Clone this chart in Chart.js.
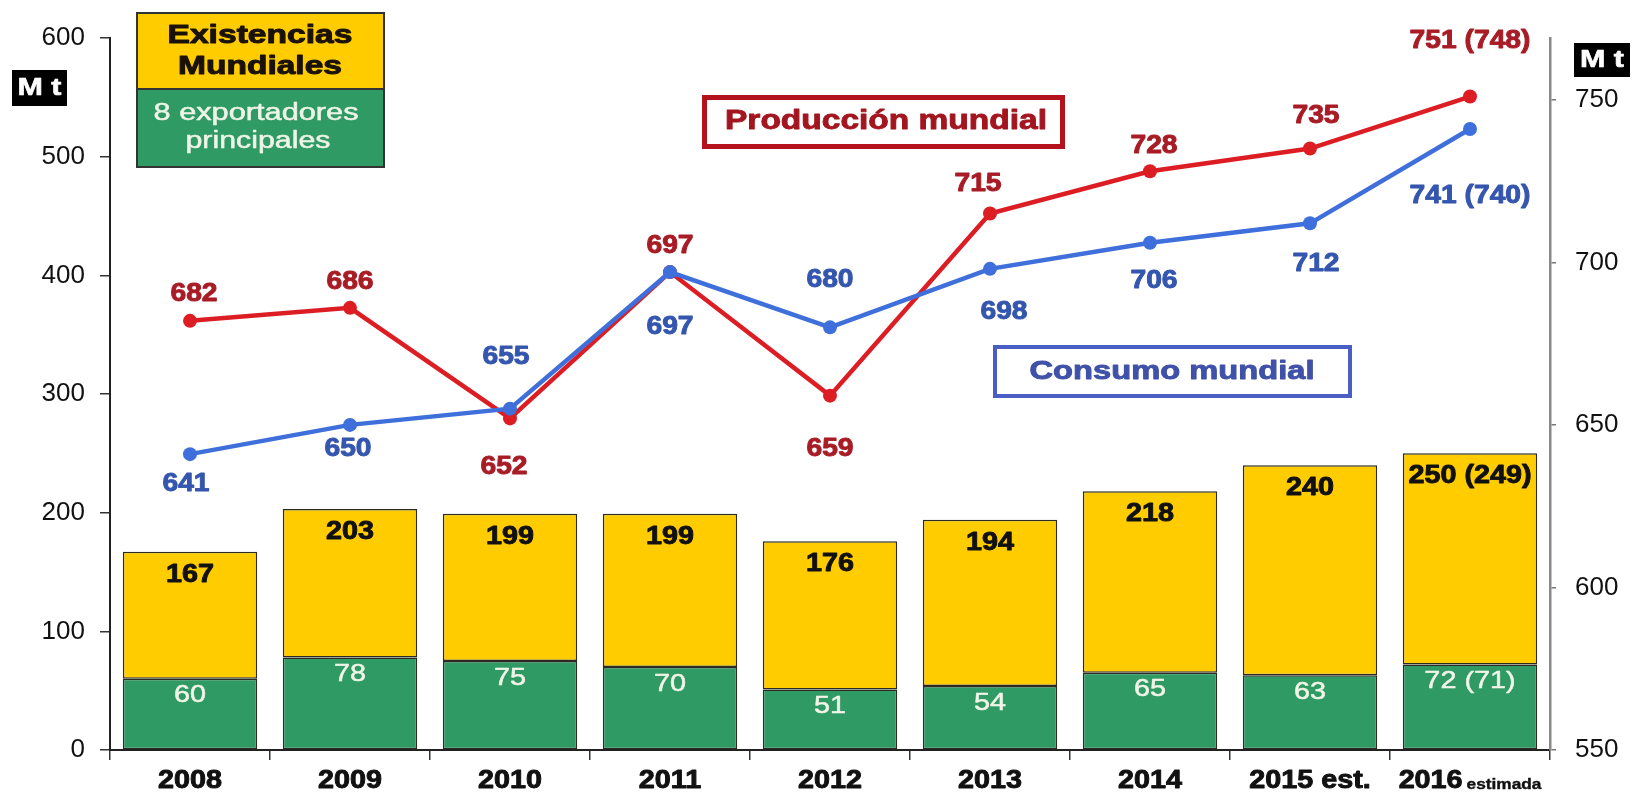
<!DOCTYPE html>
<html lang="es">
<head>
<meta charset="utf-8">
<title>Producción, consumo y existencias mundiales</title>
<script src="https://cdn.jsdelivr.net/npm/chart.js@4.4.1/dist/chart.umd.min.js"></script>
<style>
  html, body { margin: 0; padding: 0; background: #fff; }
  #wrap { width: 1635px; height: 794px; }
</style>
</head>
<body>
<div id="wrap"><canvas id="chart" width="1635" height="794"></canvas></div>
<script>
// campañas
const years = ["2008", "2009", "2010", "2011", "2012", "2013", "2014", "2015 est.", "2016"];
const yearNotes = ["", "", "", "", "", "", "", "", "estimada"];

// existencias (Mt, eje izquierdo)
const stocksTotal = [167, 203, 199, 199, 176, 194, 218, 240, 250];
const stocksExporters = [60, 78, 75, 70, 51, 54, 65, 63, 72];
const stocksTotalPrev = [null, null, null, null, null, null, null, null, 249];
const stocksExportersPrev = [null, null, null, null, null, null, null, null, 71];

// producción y consumo (Mt, eje derecho)
const production = [682, 686, 652, 697, 659, 715, 728, 735, 751];
const consumption = [641, 650, 655, 697, 680, 698, 706, 712, 741];
const productionPrev = [null, null, null, null, null, null, null, null, 748];
const consumptionPrev = [null, null, null, null, null, null, null, null, 740];

const stockTicks = [0, 100, 200, 300, 400, 500, 600];
const balanceTicks = [550, 600, 650, 700, 750];
const balanceMax = 769;

const RED = "#DC1E24";
const RED_TEXT = "#A81C26";
const BLUE = "#3F6FDA";
const BLUE_TEXT = "#3556AE";
const YELLOW = "#FFCC00";
const GREEN = "#2F9A64";

// where each point label sits relative to its point
const prodLabelShift = [[4, -27], [0, -26], [-6, 49], [0, -26], [0, 53], [-12, -29], [4, -25], [6, -32], [0, -55]];
const consLabelShift = [[-4, 30], [-2, 24], [-4, -52], [0, 55], [0, -47], [14, 43], [4, 38], [6, 41], [0, 67]];

const withPrev = (v, prev) => (prev == null ? String(v) : v + " (" + prev + ")");

// text with optional horizontal stretch and a thin outline to make it heavier
function drawText(ctx, str, x, y, font, color, align, sx, heavy) {
  ctx.save();
  ctx.font = font;
  ctx.fillStyle = color;
  ctx.textAlign = align || "center";
  ctx.textBaseline = "middle";
  ctx.translate(x, y);
  ctx.scale(sx || 1, 1);
  ctx.fillText(str, 0, 0);
  if (heavy) {
    ctx.strokeStyle = color;
    ctx.lineWidth = heavy;
    ctx.lineJoin = "round";
    ctx.strokeText(str, 0, 0);
  }
  ctx.restore();
}

function fitText(ctx, str, x, y, font, color, width, heavy) {
  ctx.save();
  ctx.font = font;
  const sx = width / ctx.measureText(str).width;
  ctx.restore();
  drawText(ctx, str, x, y, font, color, "center", sx, heavy);
}

const valueLabels = {
  id: "valueLabels",
  afterDatasetsDraw(chart) {
    const ctx = chart.ctx;
    const x = chart.scales.x;
    const y = chart.scales.y;
    const y2 = chart.scales.y2;
    const bold = "bold 25px 'Liberation Sans', Arial, sans-serif";
    const plain = "24px 'Liberation Sans', Arial, sans-serif";

    years.forEach((_, i) => {
      const cx = x.getPixelForValue(i);
      // existencias
      drawText(ctx, withPrev(stocksTotal[i], stocksTotalPrev[i]), cx, y.getPixelForValue(stocksTotal[i]) + 23, bold, "#111", "center", 1.15, 0.9);
      drawText(ctx, withPrev(stocksExporters[i], stocksExportersPrev[i]), cx, y.getPixelForValue(stocksExporters[i]) + 17, plain, "#F2F4E8", "center", 1.2, 0.5);
      // producción / consumo
      const ps = prodLabelShift[i];
      drawText(ctx, withPrev(production[i], productionPrev[i]), cx + ps[0], y2.getPixelForValue(production[i]) + ps[1], bold, RED_TEXT, "center", 1.13, 0.9);
      const cs = consLabelShift[i];
      drawText(ctx, withPrev(consumption[i], consumptionPrev[i]), cx + cs[0], y2.getPixelForValue(consumption[i]) + cs[1], bold, BLUE_TEXT, "center", 1.13, 0.9);
    });
  },
  afterDraw(chart) {
    const ctx = chart.ctx;
    const x = chart.scales.x;
    const yearFont = "bold 25px 'Liberation Sans', Arial, sans-serif";
    const noteFont = "bold 15px 'Liberation Sans', Arial, sans-serif";

    // etiquetas de años
    years.forEach((label, i) => {
      const cx = x.getPixelForValue(i);
      const note = yearNotes[i];
      if (!note) {
        drawText(ctx, label, cx, 781, yearFont, "#111", "center", 1.15, 0.9);
        return;
      }
      ctx.save();
      ctx.font = yearFont;
      const w1 = ctx.measureText(label).width * 1.15;
      ctx.font = noteFont;
      const w2 = ctx.measureText(note).width * 1.15;
      ctx.restore();
      const gap = 4;
      const left = cx - (w1 + gap + w2) / 2;
      drawText(ctx, label, left, 781, yearFont, "#111", "left", 1.15, 0.9);
      drawText(ctx, note, left + w1 + gap, 785, noteFont, "#111", "left", 1.15, 0.4);
    });

    // unidades
    ctx.fillStyle = "#000";
    ctx.fillRect(12, 70, 55, 36);
    ctx.fillRect(1574, 43, 56, 34);
    fitText(ctx, "M t", 39.5, 88, "bold 24px 'Liberation Sans', Arial, sans-serif", "#fff", 44, 0.6);
    fitText(ctx, "M t", 1602, 60, "bold 24px 'Liberation Sans', Arial, sans-serif", "#fff", 44, 0.6);

    // leyenda de existencias
    ctx.save();
    ctx.fillStyle = YELLOW;
    ctx.fillRect(137, 13, 247, 76);
    ctx.fillStyle = GREEN;
    ctx.fillRect(137, 89, 247, 78);
    ctx.strokeStyle = "#333";
    ctx.lineWidth = 2;
    ctx.strokeRect(137, 13, 247, 154);
    ctx.beginPath();
    ctx.moveTo(137, 89);
    ctx.lineTo(384, 89);
    ctx.stroke();
    ctx.restore();
    fitText(ctx, "Existencias", 260, 36, "bold 26px 'Liberation Sans', Arial, sans-serif", "#1a1208", 185, 1);
    fitText(ctx, "Mundiales", 260, 67, "bold 26px 'Liberation Sans', Arial, sans-serif", "#1a1208", 164, 1);
    fitText(ctx, "8 exportadores", 256, 114, "23px 'Liberation Sans', Arial, sans-serif", "#EEF4E6", 205, 0.5);
    fitText(ctx, "principales", 258, 142, "23px 'Liberation Sans', Arial, sans-serif", "#EEF4E6", 145, 0.5);

    // rótulos de las series
    ctx.save();
    ctx.fillStyle = "#fff";
    ctx.fillRect(702, 95, 363, 54);
    ctx.strokeStyle = "#B3121C";
    ctx.lineWidth = 5;
    ctx.strokeRect(704.5, 97.5, 358, 49);
    ctx.fillRect(993, 345, 359, 53);
    ctx.strokeStyle = "#4A5EC4";
    ctx.lineWidth = 4;
    ctx.strokeRect(995, 347, 355, 49);
    ctx.restore();
    fitText(ctx, "Producción mundial", 886, 122, "bold 27px 'Liberation Sans', Arial, sans-serif", "#A3161F", 322, 0.9);
    fitText(ctx, "Consumo mundial", 1172, 372, "bold 26px 'Liberation Sans', Arial, sans-serif", "#3F51A8", 285, 0.9);
  }
};

const tickFont = { family: "'Liberation Sans', Arial, sans-serif", size: 26 };

new Chart(document.getElementById("chart"), {
  type: "bar",
  data: {
    labels: years,
    datasets: [
      {
        type: "line",
        label: "Consumo mundial",
        data: consumption,
        yAxisID: "y2",
        borderColor: BLUE,
        backgroundColor: BLUE,
        borderWidth: 4.5,
        pointRadius: 7,
        pointBorderWidth: 0,
        pointBackgroundColor: BLUE,
        tension: 0,
        order: 0,
      },
      {
        type: "line",
        label: "Producción mundial",
        data: production,
        yAxisID: "y2",
        borderColor: RED,
        backgroundColor: RED,
        borderWidth: 4.5,
        pointRadius: 7,
        pointBorderWidth: 0,
        pointBackgroundColor: RED,
        tension: 0,
        order: 1,
      },
      {
        label: "8 exportadores principales",
        data: stocksExporters,
        yAxisID: "y",
        backgroundColor: GREEN,
        borderColor: "#2b2b22",
        borderWidth: 1.5,
        borderSkipped: false,
        stack: "stocks",
        order: 2,
      },
      {
        label: "Existencias mundiales",
        data: stocksTotal.map((t, i) => t - stocksExporters[i]),
        yAxisID: "y",
        backgroundColor: YELLOW,
        borderColor: "#2b2b22",
        borderWidth: 1.5,
        borderSkipped: false,
        stack: "stocks",
        order: 2,
      },
    ],
  },
  options: {
    responsive: false,
    animation: false,
    devicePixelRatio: 1,
    layout: { padding: { top: 38, left: 0, right: 0, bottom: 0 } },
    datasets: { bar: { barPercentage: 0.84, categoryPercentage: 1 } },
    plugins: { legend: { display: false }, tooltip: { enabled: false } },
    scales: {
      x: {
        stacked: true,
        offset: true,
        grid: { display: true, drawOnChartArea: false, offset: true, tickLength: 10, color: "#333", lineWidth: 1.5 },
        border: { color: "#222", width: 2 },
        ticks: { display: false },
        afterFit: (s) => { s.height = 44; },
      },
      y: {
        stacked: true,
        position: "left",
        min: stockTicks[0],
        max: stockTicks[stockTicks.length - 1],
        afterBuildTicks: (s) => { s.ticks = stockTicks.map((v) => ({ value: v })); },
        ticks: { font: tickFont, color: "#111", padding: 15 },
        grid: { drawOnChartArea: false, tickLength: 10, color: "#333", lineWidth: 1.5 },
        border: { color: "#222", width: 2 },
        afterFit: (s) => { s.width = 110; },
      },
      y2: {
        position: "right",
        min: balanceTicks[0],
        max: balanceMax,
        afterBuildTicks: (s) => { s.ticks = balanceTicks.map((v) => ({ value: v })); },
        ticks: { font: tickFont, color: "#111", padding: 19 },
        grid: { drawOnChartArea: false, tickLength: 6, color: "#777", lineWidth: 1.5 },
        border: { color: "#888", width: 2.5 },
        afterFit: (s) => { s.width = 85; },
      },
    },
  },
  plugins: [valueLabels],
});
</script>
</body>
</html>
